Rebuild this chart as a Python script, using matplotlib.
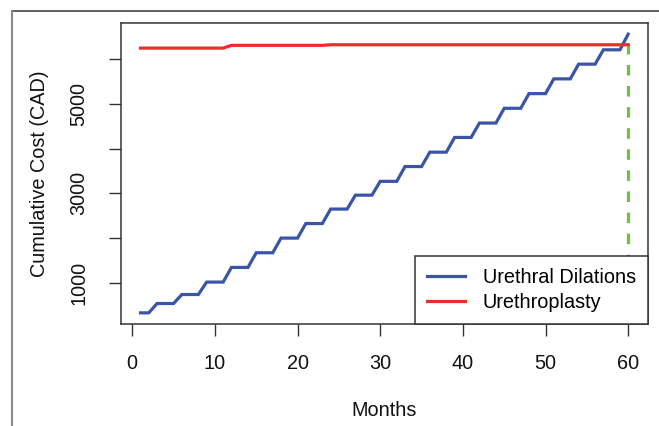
import matplotlib
matplotlib.use("Agg")
import matplotlib.pyplot as plt
from matplotlib.lines import Line2D

plt.rcParams['font.family'] = ['Liberation Sans', 'DejaVu Sans']

# ---- data ----
months = list(range(1, 61))
# urethral dilations: step every 3 months
dil_levels = [336, 544, 745, 1022, 1349, 1676, 2003, 2327, 2650, 2960,
              3268, 3598, 3919, 4247, 4568, 4897, 5224, 5553, 5881, 6201]
dilations = [dil_levels[0], dil_levels[0]] + \
    [dil_levels[(m) // 3] for m in range(3, 60)] + [6550]
# urethroplasty
uplasty = [6239] * 11 + [6300] * 12 + [6313] * 37
horizon_month = 60
horizon_top = 6550

series_labels = ["Urethral Dilations", "Urethroplasty"]
xticks = [0, 10, 20, 30, 40, 50, 60]
yticks = [1000, 2000, 3000, 4000, 5000, 6000]
ytick_labels = ["1000", "", "3000", "", "5000", ""]

BLUE = "#3A55A8"
RED = "#EC2E2B"
GREEN = "#6DC246"
DARK = "#333333"
FS = 14.3

fig = plt.figure(figsize=(6.59, 4.26), dpi=100)
ax = fig.add_axes([121 / 659, 1 - 324 / 426, (647.7 - 121) / 659, (324 - 23) / 426])

ax.plot(months, dilations, color=BLUE, lw=2.3, solid_joinstyle='miter',
        label=series_labels[0], zorder=3)
ax.plot(months, uplasty, color=RED, lw=2.3, label=series_labels[1], zorder=3)
ax.plot([horizon_month, horizon_month], [0, horizon_top], color=GREEN, lw=2.3,
        linestyle=(0, (3.3, 3.3)), zorder=2)

ymin, ymax = min(dilations), max(max(dilations), horizon_top)
yr = ymax - ymin
ax.set_ylim(ymin - 0.04 * yr, ymax + 0.04 * yr)
xr = 60 - 1
ax.set_xlim(1 - 0.04 * xr, 60 + 0.04 * xr)

ax.set_xticks(xticks)
ax.set_xticklabels([str(t) for t in xticks])
ax.set_yticks(yticks)
ax.set_yticklabels(ytick_labels, rotation=90, va='center')
ax.tick_params(axis='both', length=8.3, width=1.0, color=DARK, labelsize=FS,
               labelcolor='#111111')
ax.tick_params(axis='x', pad=13)
ax.tick_params(axis='y', pad=15)
for sp in ax.spines.values():
    sp.set_color(DARK)
    sp.set_linewidth(1.1)

ax.set_xlabel("Months", fontsize=FS, labelpad=20.5, color='#111111')
ax.set_ylabel("Cumulative Cost (CAD)", fontsize=FS, labelpad=15, color='#111111')

leg = ax.legend(loc='lower right', bbox_to_anchor=(1, 0), borderaxespad=0,
                fontsize=FS, frameon=True, fancybox=False, handlelength=1.9,
                handletextpad=0.9, borderpad=0.6, labelspacing=0.3)
leg.get_frame().set_edgecolor(DARK)
leg.get_frame().set_linewidth(1.1)
leg.get_frame().set_facecolor('white')
leg.get_frame().set_alpha(1)
leg.set_zorder(5)

# outer frame lines (top and left)
fig.add_artist(Line2D([12 / 659, 1], [1 - 11 / 426, 1 - 11 / 426],
                      transform=fig.transFigure, color='#444444', lw=1.2))
fig.add_artist(Line2D([12 / 659, 12 / 659], [0, 1 - 11 / 426],
                      transform=fig.transFigure, color='#888888', lw=1.5))

fig.savefig("out.png", dpi=100)
